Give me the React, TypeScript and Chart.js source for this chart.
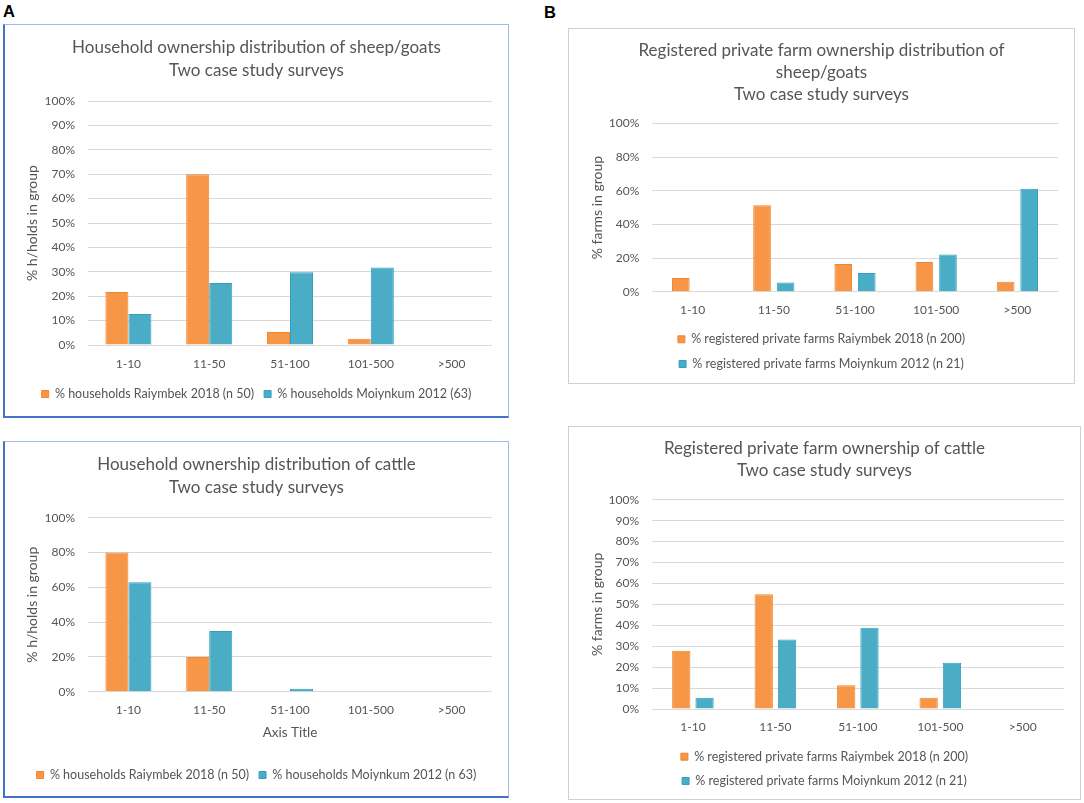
import React, { useEffect, useRef } from "react";
import { Chart, registerables } from "chart.js";

Chart.register(...registerables);

const FONT = "Lato";
Chart.defaults.font.family = FONT;
Chart.defaults.color = "#555555";

// ---------- data ----------
const categories = ["1-10", "11-50", "51-100", "101-500", ">500"];

const hhSheepRaiymbek = [21.7, 70.0, 5.3, 2.6, 0];
const hhSheepMoiynkum = [12.7, 25.4, 29.8, 31.8, 0];

const hhCattleRaiymbek = [80.0, 20.0, 0, 0, 0];
const hhCattleMoiynkum = [62.9, 34.9, 1.7, 0, 0];

const farmSheepRaiymbek = [8.1, 51.4, 16.4, 17.6, 5.9];
const farmSheepMoiynkum = [0, 5.5, 11.1, 22.1, 61.2];

const farmCattleRaiymbek = [27.8, 54.8, 11.3, 5.4, 0];
const farmCattleMoiynkum = [5.4, 33.2, 38.8, 22.1, 0];

const titleHhSheep = ["Household ownership distribution of sheep/goats", "Two case study surveys"];
const titleHhCattle = ["Household ownership distribution of cattle", "Two case study surveys"];
const titleFarmSheep = ["Registered private farm ownership distribution of", "sheep/goats", "Two case study surveys"];
const titleFarmCattle = ["Registered private farm ownership of cattle", "Two case study surveys"];

const legendHhSheep = ["% households Raiymbek 2018 (n 50)", "% households Moiynkum 2012 (63)"];
const legendHhCattle = ["% households Raiymbek 2018 (n 50)", "% households Moiynkum 2012 (n 63)"];
const legendFarm = ["% registered private farms Raiymbek 2018 (n 200)", "% registered private farms Moiynkum 2012 (n 21)"];

const yTitleHh = "% h/holds in group";
const yTitleFarm = "% farms in group";
const xTitleCattle = "Axis Title";

// ---------- styles ----------
const ORANGE = "#F79646";
const ORANGE_EDGE = "#F2862E";
const BLUE = "#4BACC6";
const BLUE_EDGE = "#33A0BE";
const TEXT = "#555555";
const GRID = "#D9D9D9";

function buildConfig(o: any): any {
  const titleSize = 17;
  const tickSize = 12;
  const legendSize = 12.5;
  const yTitleSize = 14;
  const xTitleSize = 13.5;
  const side = o.canvasW - o.plotRight;
  const titlePadTop = o.titleCenter - o.titleLine / 2;
  const titlePadBottom = o.plotTop - titlePadTop - o.title.length * o.titleLine;
  const legendPad = o.legendRowGap - legendSize;
  const legendH = o.legendRows * o.legendRowGap + 10;
  const legendTop = o.legendCenter - legendPad - legendSize / 2;
  const bottomPad = o.canvasH - legendTop - legendH;
  const xH = legendTop - o.plotBottom;
  const xTickPad = o.xLabelCenter - o.plotBottom - tickSize * 0.6;
  const xTitlePadBottom = o.xTitleY !== undefined ? legendTop - o.xTitleY - (xTitleSize * 1.2) / 2 : 0;

  return {
    type: "bar",
    data: {
      labels: categories,
      datasets: [
        {
          label: o.labels[0],
          data: o.dataA,
          backgroundColor: ORANGE,
          borderColor: ORANGE_EDGE,
          borderWidth: 1,
          categoryPercentage: o.cp,
          barPercentage: o.bp,
        },
        {
          label: o.labels[1],
          data: o.dataB,
          backgroundColor: BLUE,
          borderColor: BLUE_EDGE,
          borderWidth: 1,
          categoryPercentage: o.cp,
          barPercentage: o.bp,
        },
      ],
    },
    options: {
      animation: false,
      responsive: false,
      maintainAspectRatio: false,
      events: [],
      layout: { padding: { left: side, right: side, top: 0, bottom: bottomPad } },
      plugins: {
        title: {
          display: true,
          text: o.title,
          color: TEXT,
          font: { family: FONT, size: titleSize, weight: "normal", lineHeight: o.titleLine / titleSize },
          padding: { top: titlePadTop, bottom: titlePadBottom },
        },
        legend: {
          position: "bottom",
          labels: {
            color: TEXT,
            font: { family: FONT, size: legendSize },
            boxWidth: 7,
            boxHeight: 7,
            padding: legendPad,
          },
        },
        tooltip: { enabled: false },
      },
      scales: {
        x: {
          grid: { display: false, drawTicks: false },
          border: { display: false },
          ticks: {
            color: TEXT,
            font: { family: FONT, size: tickSize },
            padding: xTickPad,
            maxRotation: 0,
            autoSkip: false,
          },
          title: o.xTitle
            ? {
                display: true,
                text: o.xTitle,
                color: TEXT,
                font: { family: FONT, size: xTitleSize },
                padding: { top: 0, bottom: xTitlePadBottom },
              }
            : { display: false },
          afterFit: (s: any) => {
            s.height = xH;
          },
        },
        y: {
          min: 0,
          max: 100,
          ticks: {
            stepSize: o.step,
            callback: (v: any) => v + "%",
            padding: o.yTickPad,
            color: TEXT,
            font: { family: FONT, size: tickSize },
          },
          grid: { color: GRID, lineWidth: 1, drawTicks: false },
          border: { display: false },
          title: {
            display: true,
            text: o.yTitle,
            color: TEXT,
            font: { family: FONT, size: yTitleSize },
            padding: { top: o.yTitleX - side - (yTitleSize * 1.2) / 2, bottom: 0 },
          },
          afterFit: (s: any) => {
            s.width = o.plotLeft - side;
          },
        },
      },
    },
  };
}

type PanelProps = {
  left: number;
  top: number;
  width: number;
  height: number;
  bt: number;
  br: number;
  bb: number;
  bl: number;
  ct: string;
  cb: string;
  spec: any;
};

function Panel(p: PanelProps) {
  const ref = useRef<HTMLCanvasElement | null>(null);
  const cw = p.width - p.bl - p.br;
  const ch = p.height - p.bt - p.bb;
  useEffect(() => {
    if (!ref.current) return;
    const chart = new Chart(ref.current, buildConfig({ ...p.spec, canvasW: cw, canvasH: ch }));
    return () => chart.destroy();
  }, []);
  return (
    <div
      style={{
        position: "absolute",
        left: p.left,
        top: p.top,
        width: p.width,
        height: p.height,
        boxSizing: "border-box",
        borderTop: `${p.bt}px solid ${p.ct}`,
        borderRight: `${p.br}px solid ${p.ct}`,
        borderBottom: `${p.bb}px solid ${p.cb}`,
        borderLeft: `${p.bl}px solid ${p.cb}`,
        background: "#fff",
      }}
    >
      <canvas ref={ref} width={cw} height={ch} style={{ display: "block", width: cw, height: ch }} />
    </div>
  );
}

const letterStyle: React.CSSProperties = {
  position: "absolute",
  fontFamily: "'Liberation Sans', Arial, sans-serif",
  fontWeight: "bold",
  fontSize: 16.5,
  lineHeight: 1,
  color: "#000",
};

export default function App() {
  return (
    <div style={{ position: "absolute", left: 0, top: 0, width: 1084, height: 803, background: "#fff", overflow: "hidden" }}>
      <div style={{ ...letterStyle, left: 3, top: 3 }}>A</div>
      <div style={{ ...letterStyle, left: 544, top: 4 }}>B</div>

      <Panel
        left={3} top={24} width={506} height={394}
        bt={1} br={1} bb={2} bl={2} ct="#9DBDE8" cb="#4472C4"
        spec={{
          title: titleHhSheep, labels: legendHhSheep, dataA: hhSheepRaiymbek, dataB: hhSheepMoiynkum,
          yTitle: yTitleHh, plotLeft: 83, plotRight: 487, plotTop: 76, plotBottom: 320,
          titleCenter: 23, titleLine: 23, xLabelCenter: 339, legendCenter: 369, legendRows: 1, legendRowGap: 22.5,
          yTickPad: 13, yTitleX: 27, step: 10, cp: 0.57, bp: 1,
        }}
      />
      <Panel
        left={3} top={441} width={506} height={357}
        bt={1} br={1} bb={2} bl={2} ct="#9DBDE8" cb="#4472C4"
        spec={{
          title: titleHhCattle, labels: legendHhCattle, dataA: hhCattleRaiymbek, dataB: hhCattleMoiynkum,
          yTitle: yTitleHh, xTitle: xTitleCattle, xTitleY: 290.7,
          plotLeft: 83, plotRight: 487, plotTop: 75.7, plotBottom: 249.7,
          titleCenter: 22.3, titleLine: 23.4, xLabelCenter: 268.5, legendCenter: 333, legendRows: 1, legendRowGap: 22.5,
          yTickPad: 13, yTitleX: 27, step: 20, cp: 0.57, bp: 1,
        }}
      />
      <Panel
        left={568} top={28} width={507} height={356}
        bt={1} br={1} bb={1} bl={1} ct="#D0D0D0" cb="#D0D0D0"
        spec={{
          title: titleFarmSheep, labels: legendFarm, dataA: farmSheepRaiymbek, dataB: farmSheepMoiynkum,
          yTitle: yTitleFarm, plotLeft: 83, plotRight: 489, plotTop: 94.4, plotBottom: 262.7,
          titleCenter: 22, titleLine: 22, xLabelCenter: 281, legendCenter: 310.3, legendRows: 2, legendRowGap: 24.7,
          yTickPad: 12.7, yTitleX: 28, step: 20, cp: 0.58, bp: 0.75,
        }}
      />
      <Panel
        left={568} top={426} width={513} height={374}
        bt={1} br={1} bb={1} bl={1} ct="#D0D0D0" cb="#D0D0D0"
        spec={{
          title: titleFarmCattle, labels: legendFarm, dataA: farmCattleRaiymbek, dataB: farmCattleMoiynkum,
          yTitle: yTitleFarm, plotLeft: 82.7, plotRight: 495, plotTop: 72.7, plotBottom: 282,
          titleCenter: 22, titleLine: 22, xLabelCenter: 299.7, legendCenter: 329.7, legendRows: 2, legendRowGap: 24.3,
          yTickPad: 12.7, yTitleX: 28.3, step: 10, cp: 0.565, bp: 0.785,
        }}
      />
    </div>
  );
}
